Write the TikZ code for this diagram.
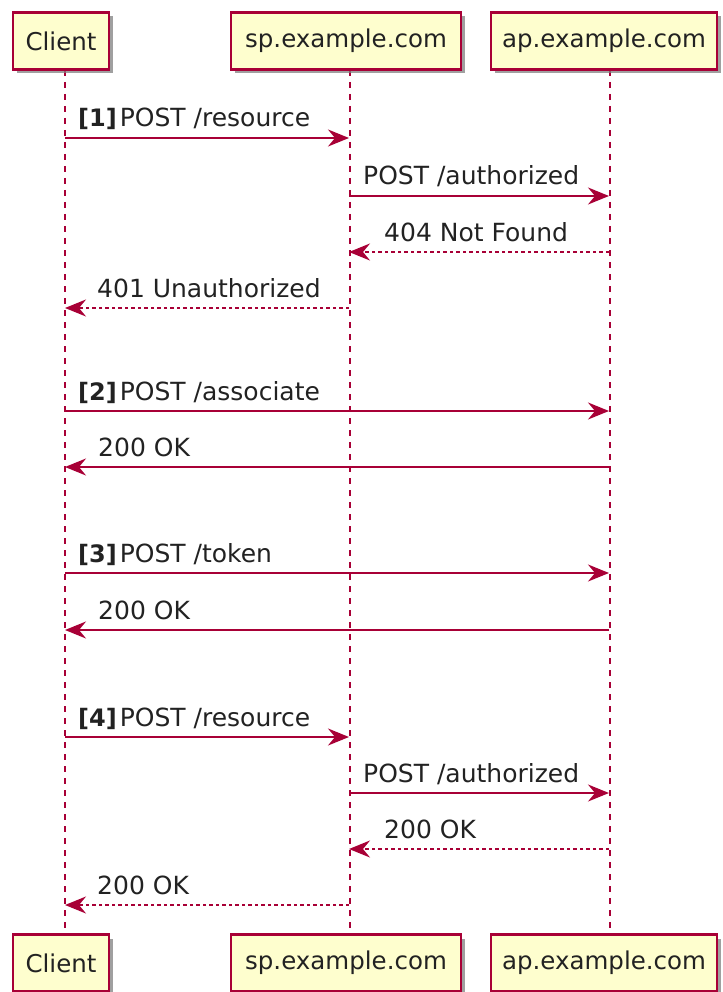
\documentclass[tikz,border=0pt]{standalone}
\usepackage{fontspec}
\setmainfont{DejaVu Sans}
\usetikzlibrary{arrows.meta,shadows}
\definecolor{umlred}{HTML}{A80036}
\definecolor{umlfill}{HTML}{FEFECE}
\definecolor{umltext}{HTML}{222222}
\tikzset{
  participant/.style={draw=umlred, line width=2.4pt, fill=umlfill, text=umltext,
    minimum height=57pt, inner xsep=10pt, font=\fontsize{24.5}{28}\selectfont,
    drop shadow={shadow xshift=4pt, shadow yshift=-4pt, fill=black!50, opacity=.75}},
  lifeline/.style={draw=umlred, line width=1.4pt, dash pattern=on 6pt off 6pt},
  msg/.style={draw=umlred, line width=1.9pt, -{Stealth[length=21pt,width=17pt,inset=7pt]}},
  reply/.style={msg, dash pattern=on 3.5pt off 3pt},
  msglabel/.style={anchor=base west, inner sep=0pt, text=umltext, font=\fontsize{25}{29}\selectfont},
}
\newcommand{\stepno}[1]{{\fontsize{24}{28}\selectfont\bfseries[#1]}\kern3pt}
\begin{document}
\begin{tikzpicture}[x=1pt,y=-1pt]
\useasboundingbox (0,0) rectangle (722,992);

% participant columns
\coordinate (cT) at (65,70);  \coordinate (cB) at (65,934);
\coordinate (sT) at (350,70); \coordinate (sB) at (350,934);
\coordinate (aT) at (610,70); \coordinate (aB) at (610,934);

\draw[lifeline] (cT) -- (cB);
\draw[lifeline] (sT) -- (sB);
\draw[lifeline] (aT) -- (aB);

\node[participant, minimum width=96pt]  (client1) at (61,41)  {Client};
\node[participant, minimum width=230pt] (sp1)     at (346,41) {sp.example.com};
\node[participant, minimum width=226pt] (ap1)     at (604,41) {ap.example.com};
\node[participant, minimum width=96pt]  (client2) at (61,963)  {Client};
\node[participant, minimum width=230pt] (sp2)     at (346,963) {sp.example.com};
\node[participant, minimum width=226pt] (ap2)     at (604,963) {ap.example.com};

% message end points on the lifelines
\foreach \y/\n in {138/1,196/2,252/3,308/4,411/5,467/6,573/7,630/8,737/9,793/10,849/11,905/12}{
  \coordinate (c\n) at (65,\y);
  \coordinate (s\n) at (349,\y);
  \coordinate (a\n) at (609,\y);
}

% step 1
\draw[msg] (c1) -- (s1);
\node[msglabel] (l1) at ([shift={(13,-11)}]c1) {\stepno{1}POST /resource};
\draw[msg] (s2) -- (a2);
\node[msglabel] (l2) at ([shift={(14,-11)}]s2) {POST /authorized};
\draw[reply] (a3) -- (s3);
\node[msglabel] (l3) at ([shift={(35,-11)}]s3) {404 Not Found};
\draw[reply] (s4) -- (c4);
\node[msglabel] (l4) at ([shift={(32,-11)}]c4) {401 Unauthorized};

% step 2
\draw[msg] (c5) -- (a5);
\node[msglabel] (l5) at ([shift={(13,-11)}]c5) {\stepno{2}POST /associate};
\draw[msg] (a6) -- (c6);
\node[msglabel] (l6) at ([shift={(33,-11)}]c6) {200 OK};

% step 3
\draw[msg] (c7) -- (a7);
\node[msglabel] (l7) at ([shift={(13,-11)}]c7) {\stepno{3}POST /token};
\draw[msg] (a8) -- (c8);
\node[msglabel] (l8) at ([shift={(33,-11)}]c8) {200 OK};

% step 4
\draw[msg] (c9) -- (s9);
\node[msglabel] (l9) at ([shift={(13,-11)}]c9) {\stepno{4}POST /resource};
\draw[msg] (s10) -- (a10);
\node[msglabel] (l10) at ([shift={(14,-11)}]s10) {POST /authorized};
\draw[reply] (a11) -- (s11);
\node[msglabel] (l11) at ([shift={(35,-11)}]s11) {200 OK};
\draw[reply] (s12) -- (c12);
\node[msglabel] (l12) at ([shift={(32,-11)}]c12) {200 OK};
\end{tikzpicture}
\end{document}
